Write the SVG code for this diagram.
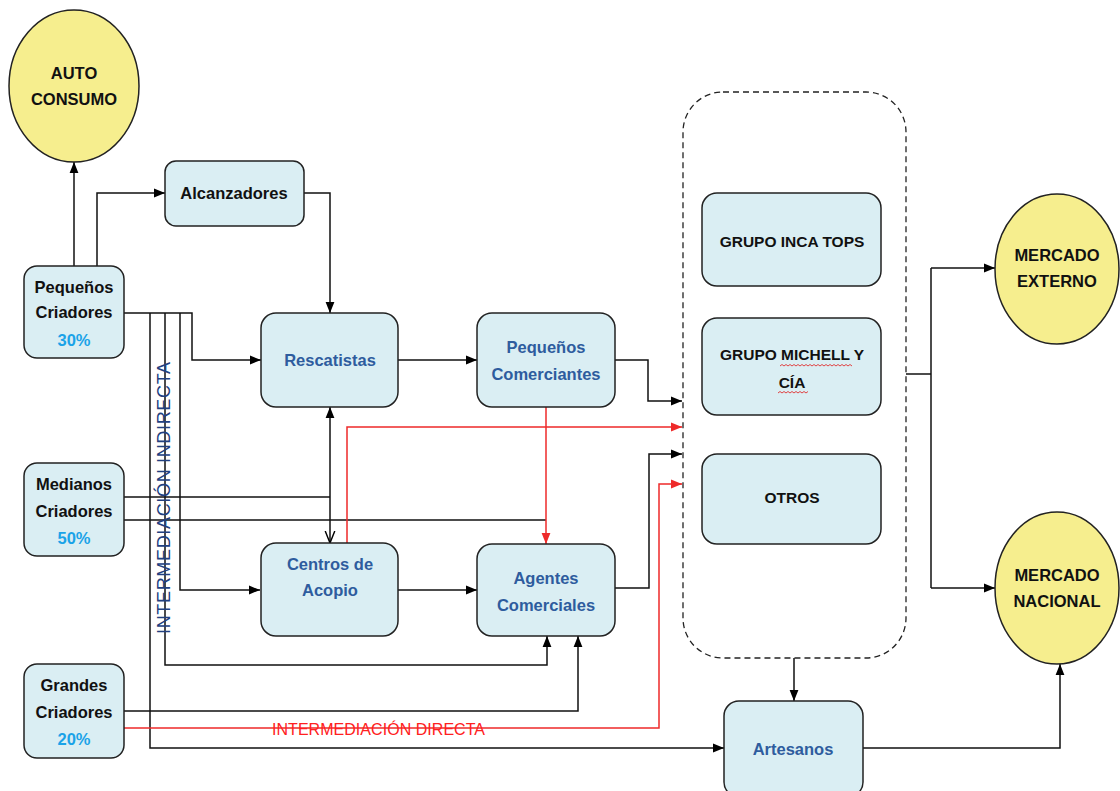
<svg xmlns="http://www.w3.org/2000/svg" width="1120" height="791" viewBox="0 0 1120 791">
<style>
.box{fill:#DAEEF3;stroke:#222;stroke-width:1.5}
.ell{fill:#F6EE8E;stroke:#222;stroke-width:1.5}
.t{font-family:"Liberation Sans",Arial,sans-serif;font-weight:bold;text-anchor:middle;font-size:16.5px;fill:#111}
.b{fill:#2E5C9E}
.pct{fill:#1AA3E8}
.g{font-size:15.5px}
.c{fill:none;stroke:#111;stroke-width:1.5}
.r{fill:none;stroke:#EE2A2A;stroke-width:1.5}
.sq{fill:none;stroke:#E03030;stroke-width:0.9}
</style>
<defs>
<marker id="ah" viewBox="0 0 10 10" refX="10" refY="5" markerWidth="11" markerHeight="11" markerUnits="userSpaceOnUse" orient="auto-start-reverse"><path d="M0,1 L10,5 L0,9 z" fill="#000"/></marker>
<marker id="ahr" viewBox="0 0 10 10" refX="10" refY="5" markerWidth="11" markerHeight="11" markerUnits="userSpaceOnUse" orient="auto"><path d="M0,1 L10,5 L0,9 z" fill="#EE2A2A"/></marker>
<marker id="ao" viewBox="0 0 10 10" refX="10" refY="5" markerWidth="12" markerHeight="12" markerUnits="userSpaceOnUse" orient="auto"><path d="M0,1 L10,5 L0,9" fill="none" stroke="#000" stroke-width="1.2"/></marker>
</defs>
<rect width="1120" height="791" fill="#fff"/>

<g id="container">
<rect x="683" y="92" width="223" height="566" rx="40" fill="none" stroke="#222" stroke-width="1.3" stroke-dasharray="6,4"/>
</g>

<g id="connectors">
<path class="c" d="M74,266 V162" marker-end="url(#ah)"/>
<path class="c" d="M97,266 V193 H165" marker-end="url(#ah)"/>
<path class="c" d="M304,193 H330 V313" marker-end="url(#ah)"/>
<path class="c" d="M124,313 H192 V360 H261" marker-end="url(#ah)"/>
<path class="c" d="M180,313 V590 H260" marker-end="url(#ah)"/>
<path class="c" d="M165,313 V665 H547 V636" marker-end="url(#ah)"/>
<path class="c" d="M150,313 V748 H724" marker-end="url(#ah)"/>
<path class="c" d="M330,407 V543" marker-start="url(#ah)" marker-end="url(#ao)"/>
<path class="c" d="M124,497 H330"/>
<path class="c" d="M124,520 H546"/>
<path class="c" d="M398,360 H477" marker-end="url(#ah)"/>
<path class="c" d="M615,360 H648 V401 H682" marker-end="url(#ah)"/>
<path class="r" d="M546,407 V544" marker-end="url(#ahr)"/>
<path class="r" d="M347,543 V427 H682" marker-end="url(#ahr)"/>
<path class="c" d="M398,590 H477" marker-end="url(#ah)"/>
<path class="c" d="M615,588 H649 V454 H682" marker-end="url(#ah)"/>
<path class="c" d="M124,711 H578 V636" marker-end="url(#ah)"/>
<path class="r" d="M124,728 H659 V484 H682" stroke-width="2" stroke="#F04848" marker-end="url(#ahr)"/>
<path class="c" d="M794,658 V701" marker-end="url(#ah)"/>
<path class="c" d="M906,374 H931"/>
<path class="c" d="M931,268 V588"/>
<path class="c" d="M931,268 H995" marker-end="url(#ah)"/>
<path class="c" d="M931,588 H995" marker-end="url(#ah)"/>
<path class="c" d="M863,748 H1060 V664" marker-end="url(#ah)"/>
<text x="272" y="735" font-family="Liberation Sans, Arial, sans-serif" font-size="16" fill="#FF2020" textLength="213">INTERMEDIACIÓN DIRECTA</text>
<text transform="translate(170,498) rotate(-90)" text-anchor="middle" font-family="Liberation Sans, Arial, sans-serif" font-size="18" fill="#22407F" textLength="272">INTERMEDIACIÓN INDIRECTA</text>
</g>

<g id="autoconsumo">
<ellipse class="ell" cx="74" cy="86" rx="65" ry="76"/>
<text class="t" x="74" y="79" font-size="17">AUTO</text>
<text class="t" x="74" y="105" font-size="17">CONSUMO</text>
</g>

<g id="alcanzadores">
<rect class="box" x="165" y="161" width="139" height="65" rx="11"/>
<text class="t" x="234" y="199">Alcanzadores</text>
</g>

<g id="pequenos-criadores">
<rect class="box" x="24" y="266" width="100" height="92" rx="13"/>
<text class="t" x="74" y="293" font-size="17">Pequeños</text>
<text class="t" x="74" y="318" font-size="17">Criadores</text>
<text class="t pct" x="74" y="346" font-size="17">30%</text>
</g>

<g id="medianos-criadores">
<rect class="box" x="24" y="463" width="100" height="93" rx="13"/>
<text class="t" x="74" y="490" font-size="17">Medianos</text>
<text class="t" x="74" y="517" font-size="17">Criadores</text>
<text class="t pct" x="74" y="544" font-size="17">50%</text>
</g>

<g id="grandes-criadores">
<rect class="box" x="24" y="664" width="100" height="94" rx="13"/>
<text class="t" x="74" y="691" font-size="17">Grandes</text>
<text class="t" x="74" y="718" font-size="17">Criadores</text>
<text class="t pct" x="74" y="745" font-size="17">20%</text>
</g>

<g id="rescatistas">
<rect class="box" x="261" y="313" width="137" height="94" rx="15"/>
<text class="t b" x="330" y="366">Rescatistas</text>
</g>

<g id="pequenos-comerciantes">
<rect class="box" x="477" y="313" width="138" height="94" rx="15"/>
<text class="t b" x="546" y="353">Pequeños</text>
<text class="t b" x="546" y="380">Comerciantes</text>
</g>

<g id="centros-acopio">
<rect class="box" x="261" y="543" width="137" height="93" rx="15"/>
<text class="t b" x="330" y="570">Centros de</text>
<text class="t b" x="330" y="596">Acopio</text>
</g>

<g id="agentes-comerciales">
<rect class="box" x="477" y="544" width="138" height="92" rx="15"/>
<text class="t b" x="546" y="584">Agentes</text>
<text class="t b" x="546" y="611">Comerciales</text>
</g>

<g id="inca-tops">
<rect class="box" x="702" y="193" width="179" height="93" rx="15"/>
<text class="t g" x="792" y="247">GRUPO INCA TOPS</text>
</g>

<g id="michell">
<rect class="box" x="702" y="318" width="179" height="97" rx="15"/>
<text class="t g" x="792" y="360">GRUPO MICHELL Y</text>
<text class="t g" x="792" y="388">CÍA</text>
<path class="sq" d="M780,366 l2,-1.5 2,1.5 2,-1.5 2,1.5 2,-1.5 2,1.5 2,-1.5 2,1.5 2,-1.5 2,1.5 2,-1.5 2,1.5 2,-1.5 2,1.5 2,-1.5 2,1.5 2,-1.5 2,1.5 2,-1.5 2,1.5 2,-1.5 2,1.5 2,-1.5 2,1.5 2,-1.5 2,1.5 2,-1.5 2,1.5 2,-1.5 2,1.5 2,-1.5 2,1.5 2,-1.5 2,1.5 2,-1.5 2,1.5"/>
<path class="sq" d="M778,393 l2,-1.5 2,1.5 2,-1.5 2,1.5 2,-1.5 2,1.5 2,-1.5 2,1.5 2,-1.5 2,1.5 2,-1.5 2,1.5 2,-1.5 2,1.5 2,-1.5"/>
</g>

<g id="otros">
<rect class="box" x="702" y="454" width="179" height="90" rx="15"/>
<text class="t g" x="792" y="503">OTROS</text>
</g>

<g id="artesanos">
<rect class="box" x="724" y="701" width="139" height="96" rx="15"/>
<text class="t b" x="793" y="755">Artesanos</text>
</g>

<g id="mercado-externo">
<ellipse class="ell" cx="1057" cy="269" rx="62" ry="75"/>
<text class="t" x="1057" y="261" font-size="16">MERCADO</text>
<text class="t" x="1057" y="287" font-size="16">EXTERNO</text>
</g>

<g id="mercado-nacional">
<ellipse class="ell" cx="1057" cy="588" rx="62" ry="76"/>
<text class="t" x="1057" y="581" font-size="16">MERCADO</text>
<text class="t" x="1057" y="607" font-size="16">NACIONAL</text>
</g>
</svg>
